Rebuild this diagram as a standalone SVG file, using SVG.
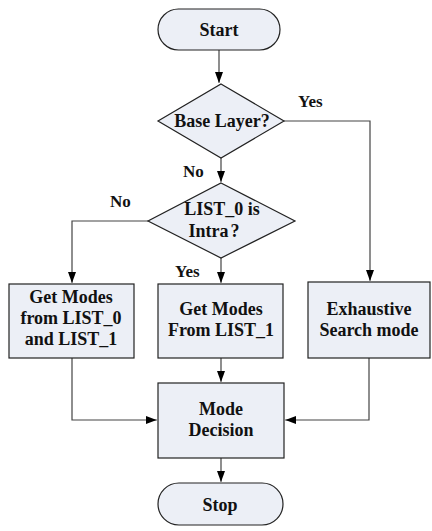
<svg xmlns="http://www.w3.org/2000/svg" width="432" height="531" viewBox="0 0 432 531">
<defs>
<marker id="arr" markerWidth="10" markerHeight="10" refX="11" refY="5" orient="auto" markerUnits="userSpaceOnUse">
<path d="M0,1 L11,5 L0,9 Z" fill="#000"/>
</marker>
<style>
.shape{fill:#ECEFF6;stroke:#222;stroke-width:1.2}
.t{font-family:"Liberation Serif","Times New Roman",serif;font-weight:bold;font-size:18px;fill:#111;text-anchor:middle}
.lbl{font-family:"Liberation Serif","Times New Roman",serif;font-weight:bold;font-size:17px;fill:#111}
.c{fill:none;stroke:#444;stroke-width:1.2}
</style>
</defs>
<rect width="432" height="531" fill="#fff"/>
<g id="connectors">
<path class="c" d="M219,50 V83" marker-end="url(#arr)"/>
<path class="c" d="M284,121 H370 V281" marker-end="url(#arr)"/>
<path class="c" d="M221,158 V182" marker-end="url(#arr)"/>
<path class="c" d="M148,221 H72 V283" marker-end="url(#arr)"/>
<path class="c" d="M221,258 V283" marker-end="url(#arr)"/>
<path class="c" d="M221,358 V382" marker-end="url(#arr)"/>
<path class="c" d="M72,358 V420 H157" marker-end="url(#arr)"/>
<path class="c" d="M369,358 V420 H285" marker-end="url(#arr)"/>
<path class="c" d="M221,458 V482" marker-end="url(#arr)"/>
<text class="lbl" x="298" y="107">Yes</text>
<text class="lbl" x="183" y="177">No</text>
<text class="lbl" x="110" y="207">No</text>
<text class="lbl" x="175" y="277">Yes</text>
</g>
<g id="start">
<rect class="shape" x="158" y="9" width="122" height="41" rx="20.5"/>
<text class="t" x="219" y="36">Start</text>
</g>
<g id="base-layer">
<polygon class="shape" points="221,84 284,121 221,158 158,121"/>
<text class="t" x="222" y="127">Base Layer?</text>
</g>
<g id="list0-intra">
<polygon class="shape" points="221,183 295,221 221,258 148,221"/>
<text class="t" x="222" y="215">LIST_0 is</text>
<text class="t" x="214" y="237">Intra<tspan dx="2">?</tspan></text>
</g>
<g id="get-modes-both">
<rect class="shape" x="9" y="284" width="125" height="74"/>
<text class="t" x="71" y="303">Get Modes</text>
<text class="t" x="71" y="324">from LIST_0</text>
<text class="t" x="71" y="345">and LIST_1</text>
</g>
<g id="get-modes-list1">
<rect class="shape" x="158" y="284" width="125" height="74"/>
<text class="t" x="221" y="315">Get Modes</text>
<text class="t" x="221" y="336">From LIST_1</text>
</g>
<g id="exhaustive">
<rect class="shape" x="308" y="282" width="122" height="76"/>
<text class="t" x="369" y="315">Exhaustive</text>
<text class="t" x="369" y="336">Search mode</text>
</g>
<g id="mode-decision">
<rect class="shape" x="158" y="383" width="126" height="75"/>
<text class="t" x="221" y="415">Mode</text>
<text class="t" x="221" y="436">Decision</text>
</g>
<g id="stop">
<rect class="shape" x="158" y="483" width="125" height="42" rx="21"/>
<text class="t" x="220" y="511">Stop</text>
</g>
</svg>
